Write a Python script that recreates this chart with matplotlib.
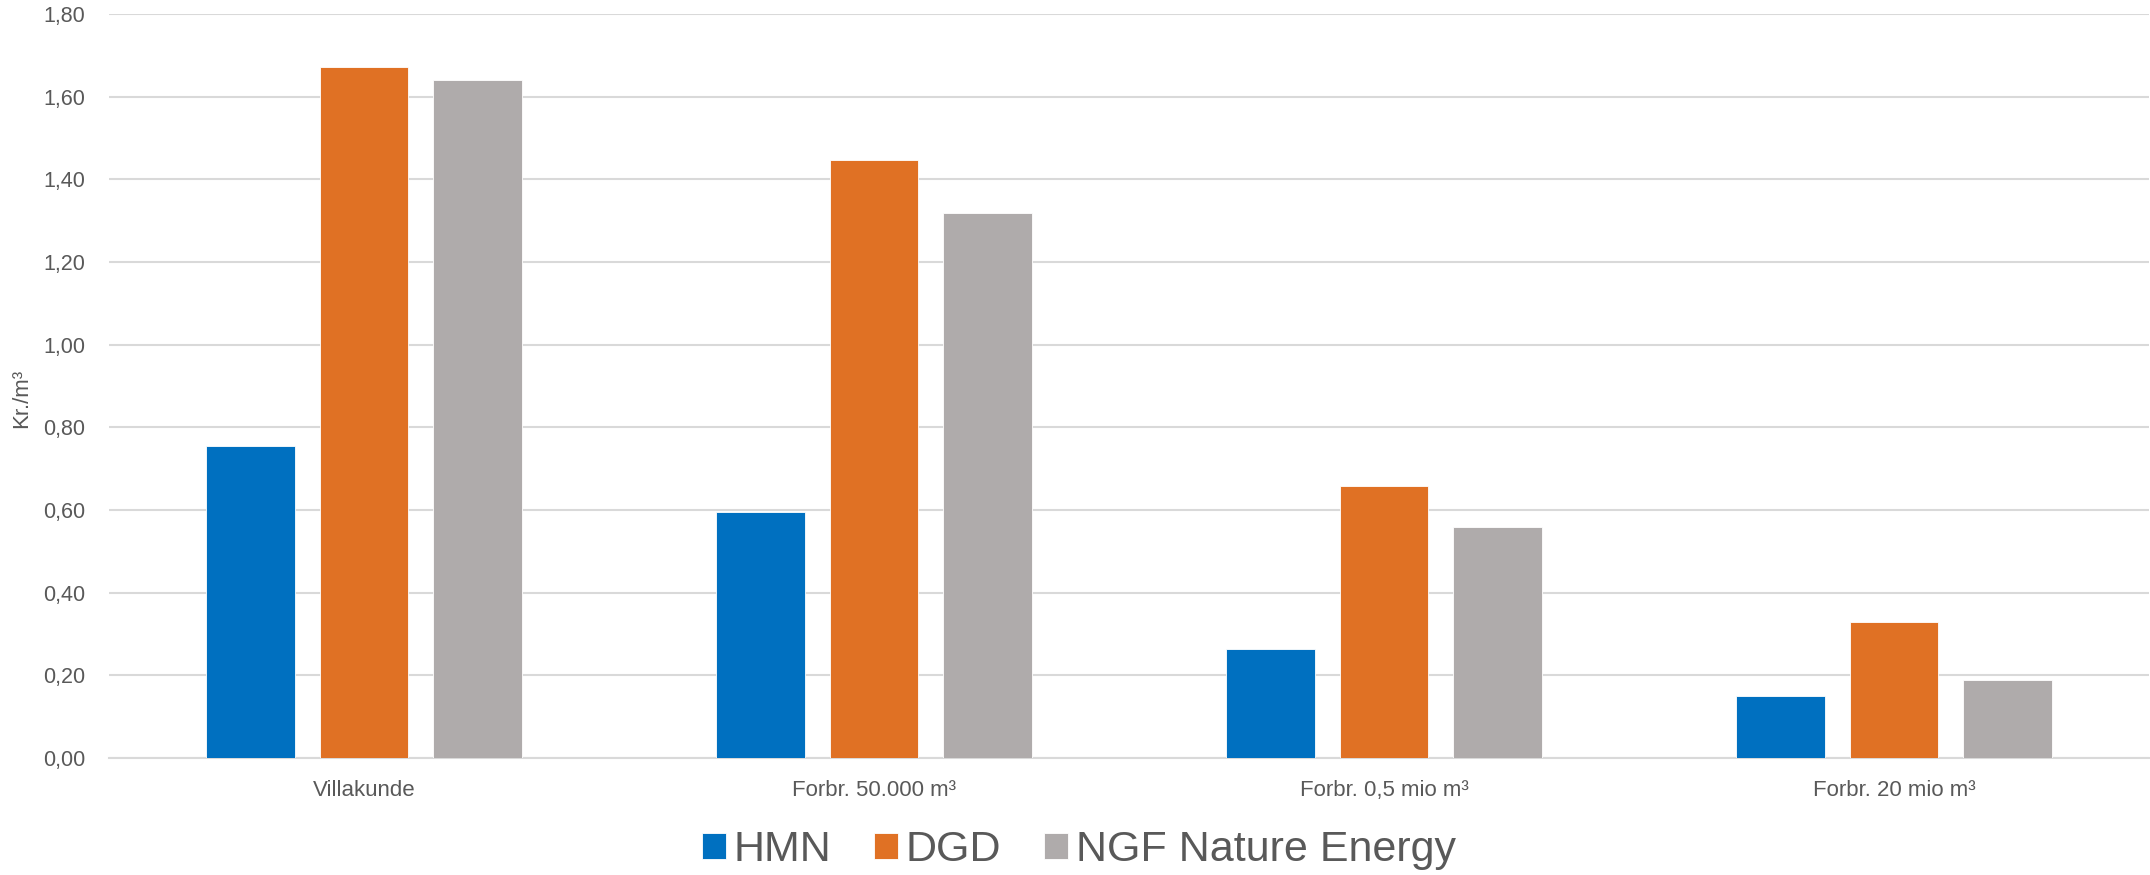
import matplotlib
matplotlib.use("Agg")
import matplotlib.pyplot as plt
import numpy as np
from matplotlib.ticker import FuncFormatter

plt.rcParams['font.family'] = ['Liberation Sans', 'DejaVu Sans']

categories = ['Villakunde', 'Forbr. 50.000 m³', 'Forbr. 0,5 mio m³', 'Forbr. 20 mio m³']
series_names = ['HMN', 'DGD', 'NGF Nature Energy']
hmn = [0.755, 0.594, 0.263, 0.151]
dgd = [1.671, 1.447, 0.658, 0.328]
ngf = [1.641, 1.318, 0.558, 0.189]
colors = ['#0070C0', '#E07124', '#AFABAB']
text_col = '#595959'

fig = plt.figure(figsize=(21.5, 8.75), dpi=100)
ax = fig.add_axes([109/2150, 1 - 758/875, 2040/2150, 744/875])

x = np.arange(len(categories))
width = 0.1745
step = 0.2216
for i, (vals, name, c) in enumerate(zip([hmn, dgd, ngf], series_names, colors)):
    ax.bar(x + (i - 1) * step, vals, width, color=c, label=name,
           edgecolor='white', linewidth=0.6, zorder=3)

ax.set_xlim(-0.5, len(categories) - 0.5)
ax.set_ylim(0, 1.8)
ax.set_yticks(np.arange(0, 1.81, 0.2))
ax.yaxis.set_major_formatter(FuncFormatter(lambda v, p: f'{v:.2f}'.replace('.', ',')))
ax.set_xticks(x)
ax.set_xticklabels(categories)

ax.grid(axis='y', color='#D9D9D9', linewidth=1.5, zorder=0)
for s in ['top', 'right', 'left']:
    ax.spines[s].set_visible(False)
ax.spines['bottom'].set_color('#D9D9D9')
ax.spines['bottom'].set_linewidth(1.5)
ax.tick_params(axis='both', length=0, colors=text_col)
ax.tick_params(axis='y', labelsize=15.5, pad=17)
ax.tick_params(axis='x', labelsize=16, pad=16)

ax.set_ylabel('Kr./m³', fontsize=16, color=text_col)
ax.yaxis.set_label_coords(32/2150, 0.5 - 12/744, transform=fig.transFigure)
ax.yaxis.label.set_position((32/2150, 1 - 398/875))

leg = fig.legend(loc='center', bbox_to_anchor=(1079/2150, 1 - 850/875), ncol=3,
                 frameon=False, fontsize=31, handlelength=0.55, handleheight=0.55,
                 handletextpad=0.18, columnspacing=1.0)
for t in leg.get_texts():
    t.set_color(text_col)

fig.savefig('out.png', dpi=100)
